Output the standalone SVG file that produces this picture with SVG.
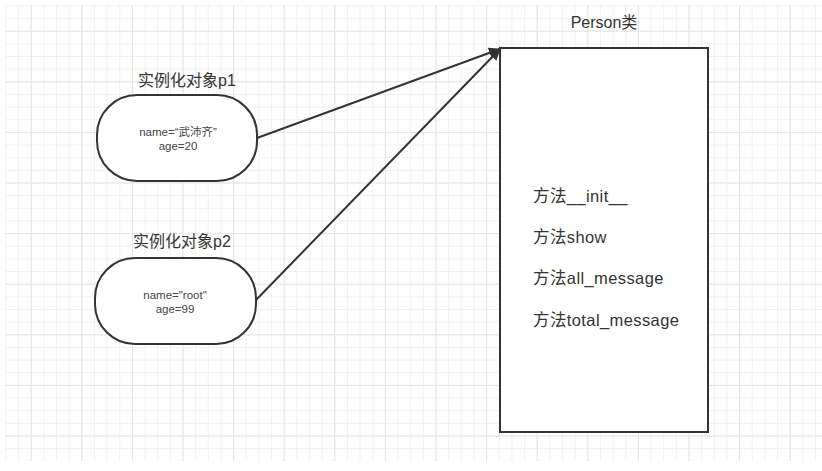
<svg xmlns="http://www.w3.org/2000/svg" width="822" height="471" viewBox="0 0 822 471">
<style>
.t{font-family:"Liberation Sans","Noto Sans CJK SC",sans-serif;fill:#333}
.lbl{font-size:16px}
.small{font-size:11.5px;fill:#444}
.m{font-size:16.5px;letter-spacing:0.4px}
.shape{fill:#fff;stroke:#333;stroke-width:2}
.conn{stroke:#333;stroke-width:2;fill:none}
</style>
<defs>
<pattern id="minor" patternUnits="userSpaceOnUse" x="5.4" y="5.4" width="12.65" height="12.65">
<path d="M0 0.5H12.65M0.5 0V12.65" stroke="#f1f1f1" stroke-width="1" fill="none"/>
</pattern>
<pattern id="major" patternUnits="userSpaceOnUse" x="30.7" y="30.7" width="50.6" height="50.6">
<path d="M0 0.5H50.6M0.5 0V50.6" stroke="#e4e4e4" stroke-width="1" fill="none"/>
</pattern>
<marker id="arr" markerWidth="12" markerHeight="12" refX="11" refY="6" orient="auto" markerUnits="userSpaceOnUse">
<path d="M0 0.5L12 6L0 11.5Z" fill="#333"/>
</marker>
</defs>
<rect width="822" height="471" fill="#fff"/>
<rect x="5" y="5" width="817" height="456" fill="url(#minor)"/>
<rect x="5" y="5" width="817" height="456" fill="url(#major)"/>
<g id="connectors">
<line class="conn" x1="257" y1="138" x2="500" y2="49" marker-end="url(#arr)"/>
<line class="conn" x1="256" y1="300" x2="500" y2="49" marker-end="url(#arr)"/>
</g>
<g id="p1">
<text class="t lbl" x="187" y="86" text-anchor="middle">实例化对象p1</text>
<rect class="shape" x="97" y="95" width="160" height="86" rx="40" ry="40"/>
<text class="t small" x="178" y="136" text-anchor="middle">name=“武沛齐”</text>
<text class="t small" x="178" y="149.5" text-anchor="middle">age=20</text>
</g>
<g id="p2">
<text class="t lbl" x="182" y="247" text-anchor="middle">实例化对象p2</text>
<rect class="shape" x="95" y="258" width="161" height="86" rx="40" ry="40"/>
<text class="t small" x="175" y="299" text-anchor="middle">name="root"</text>
<text class="t small" x="175" y="312.5" text-anchor="middle">age=99</text>
</g>
<g id="person">
<text class="t lbl" x="604" y="28" text-anchor="middle">Person类</text>
<rect class="shape" x="500" y="48" width="208" height="384"/>
<text class="t m" x="533" y="202">方法__init__</text>
<text class="t m" x="533" y="243">方法show</text>
<text class="t m" x="533" y="284">方法all_message</text>
<text class="t m" x="533" y="326">方法total_message</text>
</g>
</svg>
